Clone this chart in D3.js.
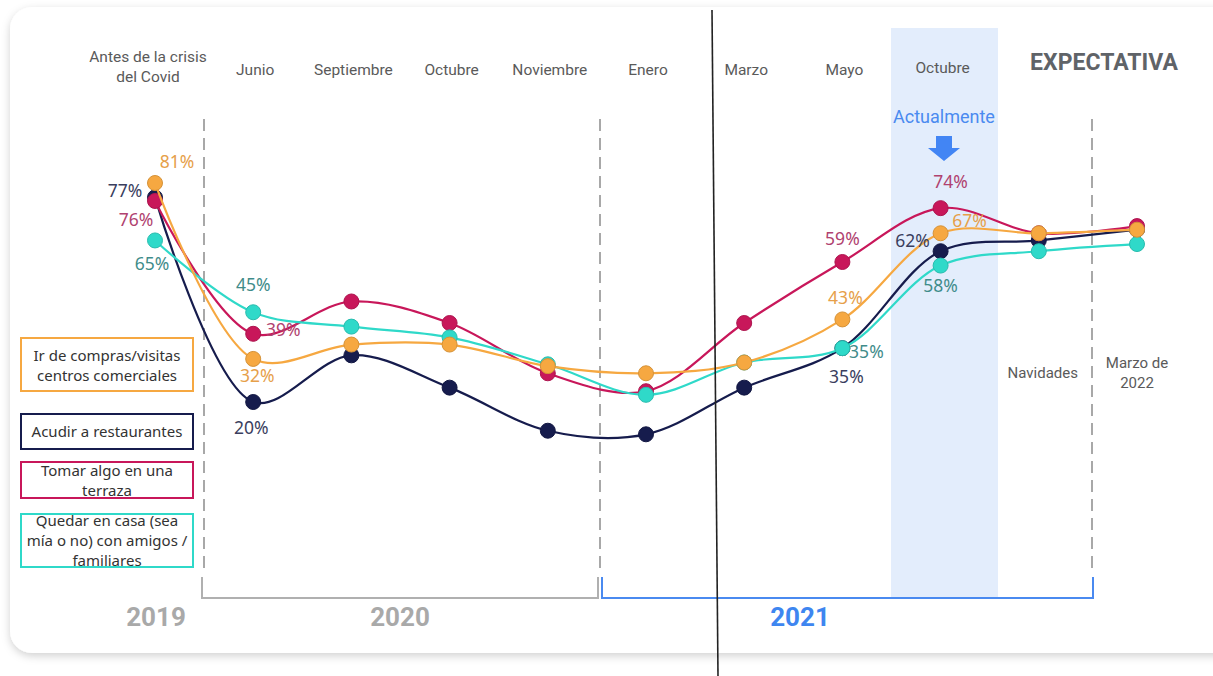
<!DOCTYPE html>
<html><head><meta charset="utf-8">
<script src="https://cdn.jsdelivr.net/npm/d3@7"></script>
<style>
html,body{margin:0;padding:0;background:#fff;}
svg{display:block;}
</style></head>
<body>
<svg id="c" width="1213" height="676"></svg>
<script>
// ---------- DATA ----------
const categories = ["Antes de la crisis del Covid","Junio","Septiembre","Octubre","Noviembre","Enero","Marzo","Mayo","Octubre","Navidades","Marzo de 2022"];
const compras      = [81,32,36,36,30,28,31,43,67,67,68];
const restaurantes = [77,20,33,24,12,11,24,35,62,65,68];
const terraza      = [76,39,48,42,28,23,42,59,74,67,69];
const casa         = [65,45,41,38,30.5,22,31,35,58,62,64];
const seriesNames  = ["Ir de compras/visitas centros comerciales","Acudir a restaurantes","Tomar algo en una terraza","Quedar en casa (sea mía o no) con amigos / familiares"];
const years = ["2019","2020","2021"];
// labelled points: [seriesIndex, categoryIndex]
const labelled = [[0,0],[1,0],[2,0],[3,0],[3,1],[2,1],[0,1],[1,1],[2,7],[0,7],[3,7],[1,7],[2,8],[0,8],[1,8],[3,8]];

// ---------- SETUP ----------
const svg = d3.select("#c");
const colors = ["#f6a841","#161c4d","#c8175a","#2fd9c9"];
const labelColors = ["#e6a04a","#3a3e5e","#b0426f","#3f8c8a"];
const allSeries = [compras, restaurantes, terraza, casa];

const x = d3.scalePoint().domain(d3.range(categories.length)).range([155,1137]);
const y = d3.scaleLinear().domain([0,100]).range([473.8,114.8]);

// card
const defs = svg.append("defs");
const f = defs.append("filter").attr("id","sh").attr("x","-5%").attr("y","-5%").attr("width","110%").attr("height","115%");
f.append("feDropShadow").attr("dx",0).attr("dy",3).attr("stdDeviation",4).attr("flood-color","#000").attr("flood-opacity",0.18);
svg.append("rect").attr("x",10).attr("y",7).attr("width",1240).attr("height",646).attr("rx",22)
  .attr("fill","#fff").attr("filter","url(#sh)");

// highlight band
svg.append("rect").attr("x",891).attr("y",28).attr("width",107).attr("height",570).attr("fill","#e3edfc");

// dashed separators
[204,600,1092].forEach(xx=>{
  svg.append("line").attr("x1",xx).attr("x2",xx).attr("y1",119).attr("y2",574)
    .attr("stroke","#a8a8a8").attr("stroke-width",2).attr("stroke-dasharray","12,7");
});

// brackets
svg.append("path").attr("d","M202,577V598H598V577").attr("fill","none").attr("stroke","#b0b0b0").attr("stroke-width",2);
svg.append("path").attr("d","M602,577V598H1093V577").attr("fill","none").attr("stroke","#4a8af0").attr("stroke-width",2);

// year labels
const yearPos = [[156,"#a9a9a9"],[400,"#a9a9a9"],[800,"#3e86f0"]];
years.forEach((t,i)=>{
  svg.append("text").attr("x",yearPos[i][0]).attr("y",626).attr("text-anchor","middle")
    .attr("font-family","Roboto").attr("font-weight","bold").attr("font-size",26)
    .attr("fill",yearPos[i][1]).text(t);
});

// top category labels
const topFont = "Roboto";
categories.forEach((c,i)=>{
  if(i===0){
    const t = svg.append("text").attr("text-anchor","middle").attr("font-family",topFont).attr("font-size",15.5).attr("fill","#5a5a5a");
    t.append("tspan").attr("x",x(i)-7).attr("y",62).text("Antes de la crisis");
    t.append("tspan").attr("x",x(i)-7).attr("y",82).text("del Covid");
  } else if(i===9){
    svg.append("text").attr("x",x(i)+4).attr("y",378).attr("text-anchor","middle").attr("font-family",topFont).attr("font-size",15).attr("fill","#5a5a5a").text(c);
  } else if(i===10){
    const t = svg.append("text").attr("text-anchor","middle").attr("font-family",topFont).attr("font-size",15).attr("fill","#5a5a5a");
    t.append("tspan").attr("x",x(i)).attr("y",368).text("Marzo de");
    t.append("tspan").attr("x",x(i)).attr("y",388).text("2022");
  } else {
    svg.append("text").attr("x",x(i)+2).attr("y",i===8?73:75).attr("text-anchor","middle").attr("font-family",topFont).attr("font-size",15.5).attr("fill","#5a5a5a").text(c);
  }
});

svg.append("text").attr("x",1104).attr("y",70).attr("text-anchor","middle").attr("font-family","Roboto").attr("font-weight","bold").attr("font-size",23).attr("fill","#5f6368").text("EXPECTATIVA");
svg.append("text").attr("x",944).attr("y",123).attr("text-anchor","middle").attr("font-family","Roboto").attr("font-size",18).attr("fill","#4a8af0").text("Actualmente");
svg.append("path").attr("d","M936,136H952V148H960L944,161L928,148H936Z").attr("fill","#4285f4");

// lines & points
const line = d3.line().x((d,i)=>x(i)).y(d=>y(d)).curve(d3.curveCatmullRom.alpha(0.5));
const order = [1,2,3,0];
order.forEach(si=>{
  const data = allSeries[si];
  svg.append("path").attr("d",line(data)).attr("fill","none").attr("stroke",colors[si]).attr("stroke-width",2.2);
  svg.selectAll(null).data(data).enter().append("circle")
    .attr("cx",(d,i)=>x(i)).attr("cy",d=>y(d)).attr("r",7.5)
    .attr("fill",colors[si]).attr("stroke",d3.color(colors[si]).darker(0.4)).attr("stroke-width",1);
});

// data labels
const offsets = {
  "0,0":[22,-18],"1,0":[-30,-3],"2,0":[-19,23],"3,0":[-3,27],
  "3,1":[0,-24],"2,1":[30,0],"0,1":[4,21],"1,1":[-2,29],
  "2,7":[0,-19],"0,7":[3,-18],"3,7":[24,7],"1,7":[4,32],
  "2,8":[10,-23],"0,8":[29,-9],"1,8":[-28,-7],"3,8":[0,24]
};
labelled.forEach(([si,ci])=>{
  const o = offsets[si+","+ci];
  svg.append("text").attr("x",x(ci)+o[0]).attr("y",y(allSeries[si][ci])+o[1]+2.5)
    .attr("text-anchor","middle").attr("font-family","Noto Sans").attr("font-size",17.5)
    .attr("fill",labelColors[si]).text(Math.round(allSeries[si][ci])+"%");
});

// legend
const legend = [
  {y:338,h:53,lines:["Ir de compras/visitas","centros comerciales"],ty:[361,381]},
  {y:414,h:35,lines:["Acudir a restaurantes"],ty:[437]},
  {y:462,h:36,lines:["Tomar algo en una","terraza"],ty:[476,496]},
  {y:514,h:53,lines:["Quedar en casa (sea","mía o no) con amigos /","familiares"],ty:[526,546,566]}
];
legend.forEach((L,i)=>{
  svg.append("rect").attr("x",21).attr("y",L.y).attr("width",172).attr("height",L.h)
    .attr("fill","#fff").attr("stroke",colors[i]).attr("stroke-width",2);
  const t = svg.append("text").attr("text-anchor","middle").attr("font-family","Noto Sans").attr("font-size",15).attr("fill","#333");
  L.lines.forEach((s,k)=>t.append("tspan").attr("x",107).attr("y",L.ty[k]).text(s));
});

// black vertical rule
svg.append("line").attr("x1",712).attr("y1",10).attr("x2",718).attr("y2",676).attr("stroke","#222").attr("stroke-width",1.6);
</script>
</body></html>
